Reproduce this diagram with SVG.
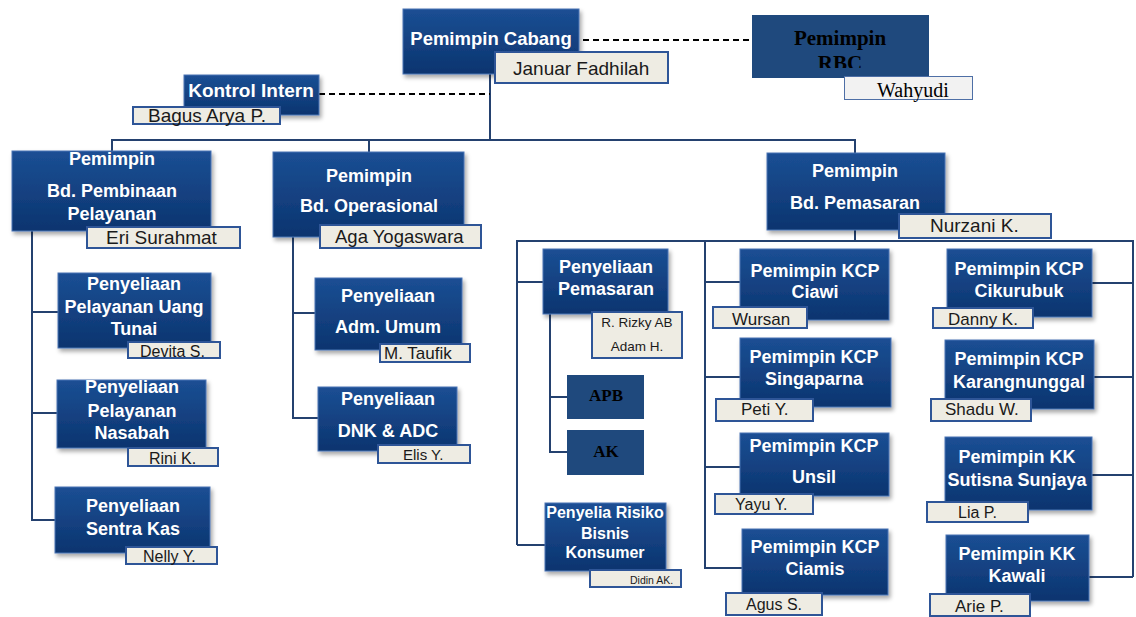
<svg xmlns="http://www.w3.org/2000/svg" width="1136" height="617" viewBox="0 0 1136 617">
  <defs>
    <linearGradient id="boxFill" x1="0" y1="0" x2="0" y2="1">
      <stop offset="0" stop-color="#1b4f94"/>
      <stop offset="1" stop-color="#0c346f"/>
    </linearGradient>
    <filter id="shadow" x="-10%" y="-10%" width="125%" height="130%">
      <feDropShadow dx="2" dy="3" stdDeviation="2" flood-color="#000" flood-opacity="0.35"/>
    </filter>
    <clipPath id="rbcClip">
      <rect x="752" y="15" width="177" height="53"/>
    </clipPath>
  </defs>
  <style>
    .box { fill: url(#boxFill); stroke: #4a74b4; stroke-width: 1; filter: url(#shadow); }
    .flat { fill: #1f497d; }
    .tag { fill: #eeece3; stroke: #2e5597; stroke-width: 2; }
    .t { font-family: "Liberation Sans", Arial, sans-serif; font-weight: bold; font-size: 18px; fill: #ffffff; text-anchor: middle; }
    .n { font-family: "Liberation Sans", Arial, sans-serif; font-size: 17px; fill: #1a1a1a; }
    .tm { font-family: "Liberation Serif", "Times New Roman", serif; fill: #000000; }
    .c { fill: none; stroke: #24416f; stroke-width: 2; }
    .d { fill: none; stroke: #000000; stroke-width: 2; stroke-dasharray: 6 4; }
  </style>
  <rect width="1136" height="617" fill="#ffffff"/>

  <!-- reporting lines -->
  <g id="connectors">
    <path class="c" d="M490,74 V140"/>
    <path class="c" d="M112,151 V140 H855 V153"/>
    <path class="c" d="M369,140 V152"/>
    <path class="c" d="M32,231 V520 H55 M32,312 H58 M32,413 H57"/>
    <path class="c" d="M293,237 V418 H318 M293,313 H315"/>
    <path class="c" d="M855,230 V241"/>
    <path class="c" d="M517,545 V241 H1133 V577"/>
    <path class="c" d="M705,241 V568 H742"/>
    <path class="c" d="M517,282 H543 M517,545 H545"/>
    <path class="c" d="M705,282 H740 M705,377 H740 M705,467 H740"/>
    <path class="c" d="M1092,283 H1133 M1094,377 H1133 M1092,475 H1133 M1089,577 H1133"/>
    <path class="c" d="M550,314 V452 H567 M550,397 H567"/>
    <path class="d" d="M573,40 H752"/>
    <path class="d" d="M319,94 H490"/>
  </g>

  <g id="pemimpin-cabang">
    <rect class="box" x="403" y="9" width="176" height="65"/>
    <text class="t" x="491" y="45" style="font-size:18.5px">Pemimpin Cabang</text>
    <rect class="tag" x="495" y="52" width="173" height="31"/>
    <text class="n" x="513" y="75" style="font-size:19px">Januar Fadhilah</text>
  </g>

  <g id="pemimpin-rbc">
    <rect class="flat" x="752" y="15" width="177" height="63"/>
    <text class="tm" x="840" y="45" text-anchor="middle" font-weight="bold" font-size="21">Pemimpin</text>
    <text class="tm" x="840" y="70" text-anchor="middle" font-weight="bold" font-size="21" clip-path="url(#rbcClip)">RBC</text>
    <rect x="844.5" y="76.5" width="128" height="23" fill="#f2f2f2" stroke="#4e6fa6" stroke-width="1"/>
    <text class="tm" x="877" y="97" font-size="20">Wahyudi</text>
  </g>

  <g id="kontrol-intern">
    <rect class="box" x="184" y="75" width="135" height="40"/>
    <text class="t" x="251" y="97" style="font-size:19px">Kontrol Intern</text>
    <rect class="tag" x="133" y="107" width="147" height="17"/>
    <text class="n" x="148" y="122" style="font-size:19px">Bagus Arya P.</text>
  </g>

  <g id="bd-pembinaan">
    <rect class="box" x="12" y="151" width="199" height="80"/>
    <text class="t" x="112" y="165">Pemimpin</text>
    <text class="t" x="112" y="197">Bd. Pembinaan</text>
    <text class="t" x="112" y="220">Pelayanan</text>
    <rect class="tag" x="87" y="227" width="153" height="21"/>
    <text class="n" x="106" y="244" style="font-size:19px">Eri Surahmat</text>
  </g>

  <g id="bd-operasional">
    <rect class="box" x="273" y="152" width="191" height="85"/>
    <text class="t" x="369" y="182">Pemimpin</text>
    <text class="t" x="369" y="212">Bd. Operasional</text>
    <rect class="tag" x="320" y="225" width="161" height="23"/>
    <text class="n" x="335" y="243" style="font-size:18.5px">Aga Yogaswara</text>
  </g>

  <g id="bd-pemasaran">
    <rect class="box" x="767" y="153" width="178" height="77"/>
    <text class="t" x="855" y="177">Pemimpin</text>
    <text class="t" x="855" y="209">Bd. Pemasaran</text>
    <rect class="tag" x="899" y="214" width="152" height="24"/>
    <text class="n" x="930" y="232" style="font-size:19px">Nurzani K.</text>
  </g>

  <g id="uang-tunai">
    <rect class="box" x="58" y="273" width="153" height="75"/>
    <text class="t" x="134" y="290">Penyeliaan</text>
    <text class="t" x="134" y="313">Pelayanan Uang</text>
    <text class="t" x="134" y="335">Tunai</text>
    <rect class="tag" x="128" y="342" width="92" height="16"/>
    <text class="n" x="140" y="357" style="font-size:16px">Devita S.</text>
  </g>

  <g id="nasabah">
    <rect class="box" x="57" y="380" width="149" height="68"/>
    <text class="t" x="132" y="393">Penyeliaan</text>
    <text class="t" x="132" y="417">Pelayanan</text>
    <text class="t" x="132" y="439">Nasabah</text>
    <rect class="tag" x="128" y="448" width="90" height="18"/>
    <text class="n" x="149" y="464" style="font-size:16px">Rini K.</text>
  </g>

  <g id="sentra-kas">
    <rect class="box" x="55" y="487" width="155" height="66"/>
    <text class="t" x="133" y="512">Penyeliaan</text>
    <text class="t" x="133" y="535">Sentra Kas</text>
    <rect class="tag" x="126" y="547" width="91" height="17"/>
    <text class="n" x="143" y="562" style="font-size:16px">Nelly Y.</text>
  </g>

  <g id="adm-umum">
    <rect class="box" x="315" y="278" width="147" height="72"/>
    <text class="t" x="388" y="302">Penyeliaan</text>
    <text class="t" x="388" y="333">Adm. Umum</text>
    <rect class="tag" x="380" y="344" width="90" height="18"/>
    <text class="n" x="384" y="359">M. Taufik</text>
  </g>

  <g id="dnk-adc">
    <rect class="box" x="318" y="387" width="139" height="64"/>
    <text class="t" x="388" y="405">Penyeliaan</text>
    <text class="t" x="388" y="437">DNK &amp; ADC</text>
    <rect class="tag" x="378" y="445" width="92" height="18"/>
    <text class="n" x="403" y="460" style="font-size:15px">Elis Y.</text>
  </g>

  <g id="penyeliaan-pemasaran">
    <rect class="box" x="543" y="249" width="125" height="65"/>
    <text class="t" x="606" y="273">Penyeliaan</text>
    <text class="t" x="606" y="295">Pemasaran</text>
    <rect class="tag" x="592" y="312" width="90" height="46"/>
    <text class="n" x="637" y="327" text-anchor="middle" style="font-size:13.5px">R. Rizky AB</text>
    <text class="n" x="637" y="351" text-anchor="middle" style="font-size:13.5px">Adam H.</text>
  </g>

  <g id="apb">
    <rect class="flat" x="567" y="375" width="77" height="44"/>
    <text class="tm" x="606" y="401" text-anchor="middle" font-weight="bold" font-size="17">APB</text>
  </g>

  <g id="ak">
    <rect class="flat" x="567" y="430" width="77" height="45"/>
    <text class="tm" x="606" y="457" text-anchor="middle" font-weight="bold" font-size="17">AK</text>
  </g>

  <g id="risiko-konsumer">
    <rect class="box" x="545" y="503" width="121" height="68"/>
    <text class="t" x="605" y="518" style="font-size:16px">Penyelia Risiko</text>
    <text class="t" x="605" y="539" style="font-size:16px">Bisnis</text>
    <text class="t" x="605" y="558" style="font-size:16px">Konsumer</text>
    <rect class="tag" x="590" y="570" width="91" height="17"/>
    <text class="n" x="630" y="584" style="font-size:10.5px">Didin AK.</text>
  </g>

  <g id="kcp-ciawi">
    <rect class="box" x="740" y="249" width="149" height="71"/>
    <text class="t" x="815" y="277">Pemimpin KCP</text>
    <text class="t" x="815" y="298">Ciawi</text>
    <rect class="tag" x="713" y="307" width="94" height="21"/>
    <text class="n" x="732" y="325">Wursan</text>
  </g>

  <g id="kcp-singaparna">
    <rect class="box" x="740" y="338" width="151" height="69"/>
    <text class="t" x="814" y="363">Pemimpin KCP</text>
    <text class="t" x="814" y="385">Singaparna</text>
    <rect class="tag" x="716" y="399" width="97" height="22"/>
    <text class="n" x="741" y="415">Peti Y.</text>
  </g>

  <g id="kcp-unsil">
    <rect class="box" x="740" y="433" width="149" height="63"/>
    <text class="t" x="814" y="452">Pemimpin KCP</text>
    <text class="t" x="814" y="483">Unsil</text>
    <rect class="tag" x="715" y="494" width="98" height="20"/>
    <text class="n" x="735" y="510" style="font-size:16px">Yayu Y.</text>
  </g>

  <g id="kcp-ciamis">
    <rect class="box" x="742" y="529" width="146" height="66"/>
    <text class="t" x="815" y="553">Pemimpin KCP</text>
    <text class="t" x="815" y="575">Ciamis</text>
    <rect class="tag" x="726" y="593" width="96" height="22"/>
    <text class="n" x="746" y="610" style="font-size:16px">Agus S.</text>
  </g>

  <g id="kcp-cikurubuk">
    <rect class="box" x="947" y="249" width="145" height="68"/>
    <text class="t" x="1019" y="275">Pemimpin KCP</text>
    <text class="t" x="1019" y="297">Cikurubuk</text>
    <rect class="tag" x="933" y="308" width="100" height="20"/>
    <text class="n" x="948" y="325">Danny K.</text>
  </g>

  <g id="kcp-karangnunggal">
    <rect class="box" x="945" y="340" width="149" height="69"/>
    <text class="t" x="1019" y="365">Pemimpin KCP</text>
    <text class="t" x="1019" y="388">Karangnunggal</text>
    <rect class="tag" x="931" y="399" width="100" height="22"/>
    <text class="n" x="945" y="415">Shadu W.</text>
  </g>

  <g id="kk-sutisna-sunjaya">
    <rect class="box" x="945" y="437" width="147" height="73"/>
    <text class="t" x="1017" y="463">Pemimpin KK</text>
    <text class="t" x="1017" y="486">Sutisna Sunjaya</text>
    <rect class="tag" x="927" y="502" width="101" height="20"/>
    <text class="n" x="958" y="518" style="font-size:16px">Lia P.</text>
  </g>

  <g id="kk-kawali">
    <rect class="box" x="946" y="535" width="143" height="66"/>
    <text class="t" x="1017" y="560">Pemimpin KK</text>
    <text class="t" x="1017" y="582">Kawali</text>
    <rect class="tag" x="930" y="594" width="100" height="22"/>
    <text class="n" x="955" y="612">Arie P.</text>
  </g>
</svg>
